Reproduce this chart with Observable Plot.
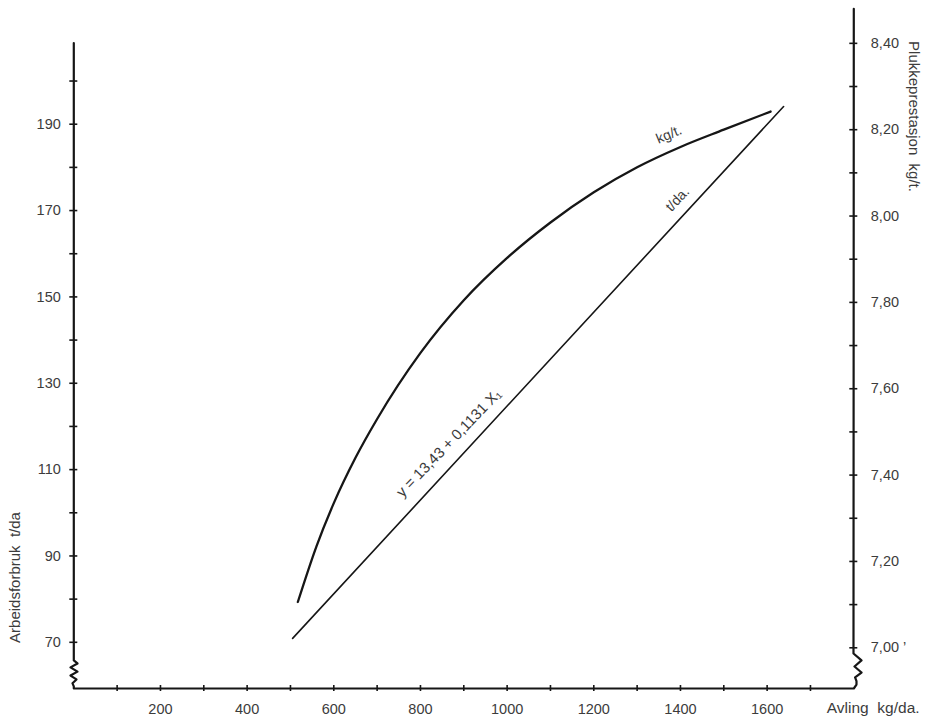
<!DOCTYPE html>
<html><head><meta charset="utf-8">
<script src="https://cdn.jsdelivr.net/npm/d3@7"></script>
<script src="https://cdn.jsdelivr.net/npm/@observablehq/plot@0.6"></script>
<style>
html,body{margin:0;padding:0;background:#fff;}
#chart svg{display:block;}
</style></head><body><div id="chart"></div>
<script>
// ---- data ----
const avlingKgt = [517, 560, 600, 650, 700, 800, 900, 1000, 1100, 1200, 1300, 1400, 1500, 1608];
const plukkKgt  = [7.106, 7.235, 7.335, 7.440, 7.530, 7.683, 7.805, 7.903, 7.985, 8.055, 8.113, 8.160, 8.200, 8.242];
const avlingTda = [505, 1638];
const arbeidTda = [70.9, 194.1];

const xTickLabels = [200, 400, 600, 800, 1000, 1200, 1400, 1600];
const xMinorTicks = d3.range(100, 1800, 100);
const leftTickLabels = [70, 90, 110, 130, 150, 170, 190];
const leftMinorTicks = d3.range(70, 201, 10);
const rightTickValues = [7.0, 7.2, 7.4, 7.6, 7.8, 8.0, 8.2, 8.4];
const rightTickLabels = ["7,00 \u2019", "7,20", "7,40", "7,60", "7,80", "8,00", "8,20", "8,40"];
const rightMinorTicks = d3.range(0, 15).map(i => 7 + i * 0.1);

const xDomain = [0, 1800];
const leftDomain = [59.3, 216.8];   // Arbeidsforbruk t/da
const leftAxisTop = 208.8;
const rightAxisTop = 8.48;          // Plukkeprestasjon kg/t
// the right axis is a linear rescaling of the left one
const toLeft = v => 68.73 + 100 * (v - 7);

// axis-break zigzags (offsets in x units, y in left units)
const breakLeftDx = [0, 8.5, -7.6, 8.5, -7.6, 6.2, -3, 0];
const breakLeftY  = [65.8, 65.1, 64.2, 63.2, 62.3, 61.4, 60.5, 59.8];
const breakRightDx = [-0.7, 17.8, 1.6, 17.8, 3, 6.2, 6.2, 0];
const breakRightY  = [67.4, 65.8, 64.4, 63.0, 61.9, 61.0, 60.2, 59.3];

// ---- tables ----
const kgt = avlingKgt.map((x, i) => ({x, y: toLeft(plukkKgt[i])}));
const tda = avlingTda.map((x, i) => ({x, y: arbeidTda[i]}));
const yb = leftDomain[0];
const revDx = breakRightDx.slice().reverse();
const revY = breakRightY.slice().reverse();
const frame = [
  {x: 0, y: leftAxisTop},
  ...breakLeftDx.map((d, i) => ({x: 0 + d, y: breakLeftY[i]})),
  {x: 0, y: yb},
  {x: 1800, y: yb},
  ...revDx.map((d, i) => ({x: 1800 + d, y: revY[i]})),
  {x: 1800, y: toLeft(rightAxisTop)}
];
const lineAt = x => arbeidTda[0] + (arbeidTda[1] - arbeidTda[0]) * (x - avlingTda[0]) / (avlingTda[1] - avlingTda[0]);
const rightLabel = d => {
  const i = rightTickValues.findIndex(v => Math.abs(toLeft(v) - d) < 1e-6);
  return i >= 0 ? rightTickLabels[i] : "";
};

const ink = "#161616";
const txt = "#3c3c3c";

const chart = Plot.plot({
  width: 932,
  height: 722,
  marginLeft: 73.3,
  marginRight: 78.7,
  marginTop: 8,
  marginBottom: 34,
  x: {domain: xDomain},
  y: {domain: leftDomain},
  style: {fontFamily: "'Liberation Sans', Arial, sans-serif", fontSize: "14.5px", color: txt, background: "#fff"},
  marks: [
    Plot.axisX(xTickLabels, {tickSize: 0, tickPadding: 15, label: null, fill: txt, tickFormat: d => String(d)}),
    Plot.axisY(leftTickLabels, {anchor: "left", tickSize: 0, tickPadding: 13, label: null, fill: txt, tickFormat: d => String(d)}),
    Plot.axisY(rightTickValues.map(toLeft), {anchor: "right", tickSize: 0, tickPadding: 17, label: null, tickFormat: rightLabel, fill: txt}),
    // axis frame with breaks
    Plot.line(frame, {x: "x", y: "y", stroke: ink, strokeWidth: 2.2, strokeLinejoin: "round"}),
    // tick crosses
    Plot.ruleY(leftMinorTicks, {y: d => d, x1: 0, x2: 0, insetLeft: -4, insetRight: -4, stroke: ink, strokeWidth: 1.6}),
    Plot.ruleY(rightMinorTicks.map(toLeft), {y: d => d, x1: 1800, x2: 1800, insetLeft: -4, insetRight: -4, stroke: ink, strokeWidth: 1.6}),
    Plot.ruleX(xMinorTicks, {x: d => d, y1: yb, y2: yb, insetTop: -3, insetBottom: -3, stroke: ink, strokeWidth: 1.6}),
    // data
    Plot.line(kgt, {x: "x", y: "y", curve: "monotone-x", stroke: ink, strokeWidth: 2.3}),
    Plot.line(tda, {x: "x", y: "y", stroke: ink, strokeWidth: 1.6}),
    // in-plot labels
    Plot.text(["kg/t."], {x: 1362, y: toLeft(8.145), dx: 5, dy: -19, rotate: -23, fill: txt, fontSize: 14}),
    Plot.text(["t/da."], {x: 1400, y: lineAt(1400), dx: -3, dy: -19, rotate: -47, fill: txt, fontSize: 14}),
    Plot.text(["y = 13,43 + 0,1131 X\u2081"], {x: 870, y: lineAt(870), dx: -2, dy: -24, rotate: -46, fill: txt, fontSize: 15, letterSpacing: "0.7px"}),
    // axis titles
    Plot.text(["Arbeidsforbruk\u00a0 t/da"], {frameAnchor: "bottom-left", dx: -59, dy: -111, rotate: -90, textAnchor: "middle", lineAnchor: "middle", fill: txt, fontSize: 15, letterSpacing: "0.2px"}),
    Plot.text(["Plukkeprestasjon\u00a0 kg/t."], {frameAnchor: "top-right", dx: 60, dy: 108, rotate: 90, textAnchor: "middle", lineAnchor: "middle", fill: txt, fontSize: 15, letterSpacing: "0.8px"}),
    Plot.text(["Avling\u00a0 kg/da."], {frameAnchor: "bottom-right", dx: -27, dy: 20, textAnchor: "start", lineAnchor: "middle", fill: txt, fontSize: 15.5, letterSpacing: "0.6px"})
  ]
});
document.getElementById("chart").appendChild(chart);
</script>
</body></html>
